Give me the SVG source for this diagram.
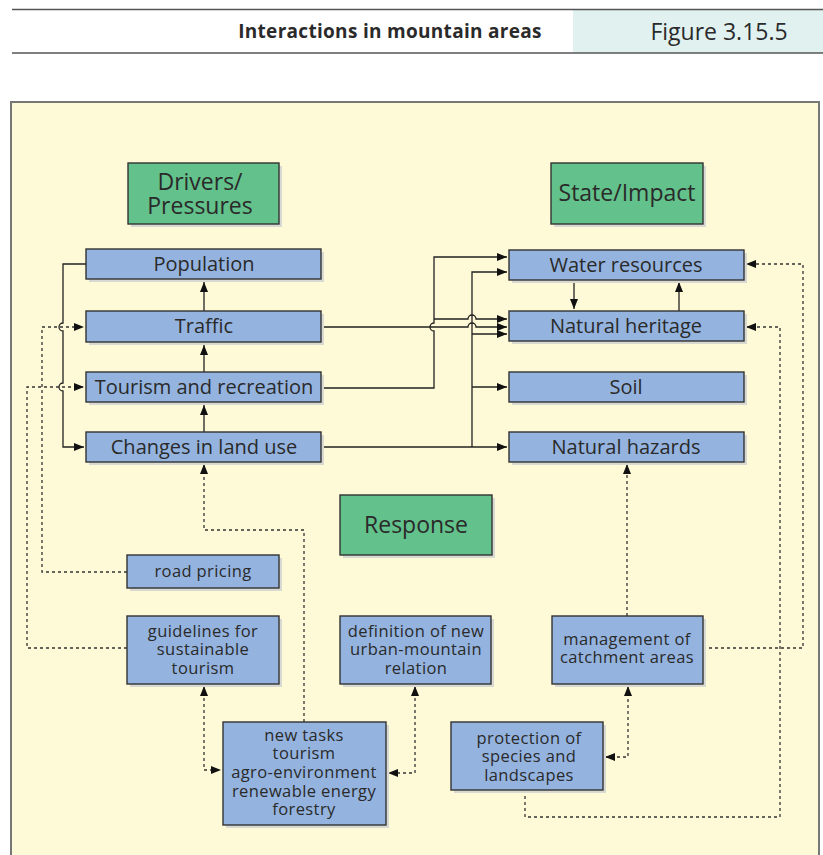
<svg xmlns="http://www.w3.org/2000/svg" width="823" height="855" viewBox="0 0 823 855">
<style>
text{font-family:"Open Sans","Liberation Sans",sans-serif;fill:#2a2a2a;text-anchor:middle}
.hdr{font-weight:bold;font-size:19px;letter-spacing:0.3px}
.fig{font-size:23px}
.box{fill:#94B4DF;stroke:#333;stroke-width:1.4}
.grn{fill:#63C18B;stroke:#333;stroke-width:1.4}
.sh{fill:#d9d9d4}
.t20{font-size:20px}
.t22{font-size:23px}
.t17{font-size:16.5px;letter-spacing:0.4px}
.ln{fill:none;stroke:#222;stroke-width:1.3}
.dt{fill:none;stroke:#333;stroke-width:1.3;stroke-dasharray:3 3}
</style>
<defs>
<marker id="ah" markerUnits="userSpaceOnUse" markerWidth="12" markerHeight="10" refX="10" refY="5" orient="auto-start-reverse" viewBox="0 0 12 10">
<path d="M0,1 L10,5 L0,9 Z" fill="#111"/>
</marker>
</defs>
<!-- header -->
<rect x="573" y="10" width="250" height="43" fill="#E1F1F0"/>
<line x1="12" y1="9.5" x2="823" y2="9.5" stroke="#555" stroke-width="1.5"/>
<line x1="12" y1="53" x2="823" y2="53" stroke="#555" stroke-width="1.5"/>
<text class="hdr" x="390" y="38">Interactions in mountain areas</text>
<text class="fig" x="719" y="40">Figure 3.15.5</text>
<!-- frame -->
<rect x="11" y="102" width="808" height="770" fill="#FEF9D6" stroke="#777" stroke-width="2"/>

<g id="connectors">
<path class="ln" d="M204,311 V282" marker-end="url(#ah)"/>
<path class="ln" d="M204,372 V345" marker-end="url(#ah)"/>
<path class="ln" d="M204,432 V405" marker-end="url(#ah)"/>
<path class="ln" d="M86,264 H63 V323 A4,4 0 0 0 63,331 V383 A4,4 0 0 0 63,391 V447 H84" marker-end="url(#ah)"/>
<path class="ln" d="M321,388 H434 V331 A4,4 0 0 1 434,323 V257 H507" marker-end="url(#ah)"/>
<path class="ln" d="M434,319 H468 A4,4 0 0 1 476,319 H507" marker-end="url(#ah)"/>
<path class="ln" d="M321,327 H468 A4,4 0 0 1 476,327 H507" marker-end="url(#ah)"/>
<path class="ln" d="M321,447 H507" marker-end="url(#ah)"/>
<path class="ln" d="M472,447 V272 H507" marker-end="url(#ah)"/>
<path class="ln" d="M472,334 H507" marker-end="url(#ah)"/>
<path class="ln" d="M472,387 H507" marker-end="url(#ah)"/>
<path class="ln" d="M574,280 V309" marker-end="url(#ah)"/>
<path class="ln" d="M679,311 V282" marker-end="url(#ah)"/>
<path class="dt" d="M127,572 H42 V327 H84" marker-end="url(#ah)"/>
<path class="dt" d="M127,648 H27 V387 H84" marker-end="url(#ah)"/>
<path class="dt" d="M304,722 V530 H204 V464" marker-end="url(#ah)"/>
<path class="dt" d="M204,686 V770 H221" marker-start="url(#ah)" marker-end="url(#ah)"/>
<path class="dt" d="M415,686 V773 H388" marker-start="url(#ah)" marker-end="url(#ah)"/>
<path class="dt" d="M605,757 H628 V686" marker-start="url(#ah)" marker-end="url(#ah)"/>
<path class="dt" d="M627,616 V464" marker-end="url(#ah)"/>
<path class="dt" d="M703,648 H803 V264 H746" marker-end="url(#ah)"/>
<path class="dt" d="M525,790 V817 H780 V327 H746" marker-end="url(#ah)"/>
</g>

<g id="drivers">
<rect class="sh" x="131" y="166" width="151" height="61"/>
<rect class="grn" x="128" y="163" width="151" height="61"/>
<text class="t22" x="200" y="190">Drivers/</text>
<text class="t22" x="200" y="214">Pressures</text>
</g>
<g id="state">
<rect class="sh" x="554" y="166" width="152" height="61"/>
<rect class="grn" x="551" y="163" width="152" height="61"/>
<text class="t22" x="627" y="201">State/Impact</text>
</g>
<g id="response">
<rect class="sh" x="343" y="498" width="152" height="60"/>
<rect class="grn" x="340" y="495" width="152" height="60"/>
<text class="t22" x="416" y="533">Response</text>
</g>

<g id="population">
<rect class="sh" x="89" y="252" width="235" height="30"/>
<rect class="box" x="86" y="249" width="235" height="30"/>
<text class="t20" x="204" y="271">Population</text>
</g>
<g id="traffic">
<rect class="sh" x="89" y="314" width="235" height="31"/>
<rect class="box" x="86" y="311" width="235" height="31"/>
<text class="t20" x="204" y="333">Traffic</text>
</g>
<g id="tourism">
<rect class="sh" x="89" y="375" width="235" height="30"/>
<rect class="box" x="86" y="372" width="235" height="30"/>
<text class="t20" x="204" y="394">Tourism and recreation</text>
</g>
<g id="landuse">
<rect class="sh" x="89" y="435" width="235" height="30"/>
<rect class="box" x="86" y="432" width="235" height="30"/>
<text class="t20" x="204" y="454">Changes in land use</text>
</g>

<g id="water">
<rect class="sh" x="512" y="253" width="235" height="30"/>
<rect class="box" x="509" y="250" width="235" height="30"/>
<text class="t20" x="626" y="272">Water resources</text>
</g>
<g id="heritage">
<rect class="sh" x="512" y="314" width="235" height="30"/>
<rect class="box" x="509" y="311" width="235" height="30"/>
<text class="t20" x="626" y="333">Natural heritage</text>
</g>
<g id="soil">
<rect class="sh" x="512" y="375" width="235" height="30"/>
<rect class="box" x="509" y="372" width="235" height="30"/>
<text class="t20" x="626" y="394">Soil</text>
</g>
<g id="hazards">
<rect class="sh" x="512" y="435" width="235" height="30"/>
<rect class="box" x="509" y="432" width="235" height="30"/>
<text class="t20" x="626" y="454">Natural hazards</text>
</g>

<g id="roadpricing">
<rect class="sh" x="130" y="558" width="152" height="33"/>
<rect class="box" x="127" y="555" width="152" height="33"/>
<text class="t17" x="203" y="577">road pricing</text>
</g>
<g id="guidelines">
<rect class="sh" x="130" y="619" width="152" height="68"/>
<rect class="box" x="127" y="616" width="152" height="68"/>
<text class="t17" x="203" y="637">guidelines for</text>
<text class="t17" x="203" y="655">sustainable</text>
<text class="t17" x="203" y="674">tourism</text>
</g>
<g id="definition">
<rect class="sh" x="343" y="619" width="151" height="68"/>
<rect class="box" x="340" y="616" width="151" height="68"/>
<text class="t17" x="416" y="637">definition of new</text>
<text class="t17" x="416" y="655">urban-mountain</text>
<text class="t17" x="416" y="674">relation</text>
</g>
<g id="management">
<rect class="sh" x="555" y="619" width="151" height="68"/>
<rect class="box" x="552" y="616" width="151" height="68"/>
<text class="t17" x="627" y="645">management of</text>
<text class="t17" x="627" y="663">catchment areas</text>
</g>
<g id="newtasks">
<rect class="sh" x="226" y="725" width="163" height="103"/>
<rect class="box" x="223" y="722" width="163" height="103"/>
<text class="t17" x="304" y="741">new tasks</text>
<text class="t17" x="304" y="759">tourism</text>
<text class="t17" x="304" y="778">agro-environment</text>
<text class="t17" x="304" y="797">renewable energy</text>
<text class="t17" x="304" y="815">forestry</text>
</g>
<g id="protection">
<rect class="sh" x="454" y="725" width="152" height="68"/>
<rect class="box" x="451" y="722" width="152" height="68"/>
<text class="t17" x="529" y="744">protection of</text>
<text class="t17" x="529" y="762">species and</text>
<text class="t17" x="529" y="781">landscapes</text>
</g>
</svg>
